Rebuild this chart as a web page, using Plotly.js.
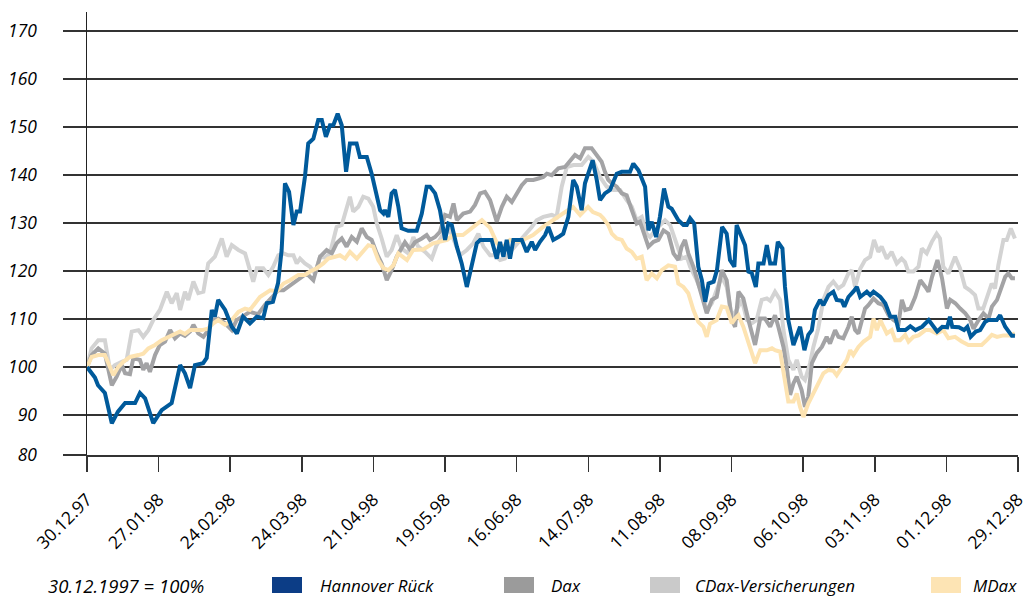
<!DOCTYPE html>
<html><head><meta charset="utf-8">
<script src="https://cdn.plot.ly/plotly-3.0.1.min.js"></script>
<style>html,body{margin:0;padding:0;background:#fff}#chart{width:1028px;height:597px}</style>
</head><body><div id="chart"></div>
<script>
// ---------- data ----------
const seriesNames = ['Hannover Rück', 'Dax', 'CDax-Versicherungen', 'MDax'];
const footnote = '30.12.1997 = 100%';

// x tick positions: days after 30.12.1997 and their labels
const xTickDays = [0, 28, 56, 84, 112, 140, 168, 196, 224, 252, 280, 308, 336, 364];
const xTickLabels = ['30.12.97','27.01.98','24.02.98','24.03.98','21.04.98','19.05.98','16.06.98',
                     '14.07.98','11.08.98','08.09.98','06.10.98','03.11.98','01.12.98','29.12.98'];
// y ticks (the lowest line of the original is labelled 80 although it sits at the axis bottom)
const yTickValues = [81.67, 90, 100, 110, 120, 130, 140, 150, 160, 170];
const yTickLabels = ['80', '90', '100', '110', '120', '130', '140', '150', '160', '170'];

// Hannover Rück: days after 30.12.1997 / index value
const hannoverDays = [
  0,1.8,3.1,4.3,7.0,9.7,12.1,14.9,18.8,20.7,
  22.7,25.9,29.2,33.1,36.4,38.3,40.3,42.2,45.4,46.8,
  48.8,50.0,51.3,54.0,56.6,58.6,61.0,63.7,66.4,68.9,
  70.3,72.7,74.7,76.1,77.4,79.0,80.7,82.0,83.3,85.2,
  86.5,88.5,90.4,91.8,93.4,95.0,96.3,98.0,99.6,101.3,
  102.8,105.4,106.7,109.4,111.3,114.6,115.9,116.5,117.8,119.1,
  120.4,121.7,123.0,125.6,128.9,130.9,132.8,134.1,136.1,138.0,
  140.0,141.3,142.6,144.6,146.5,148.5,150.4,152.4,153.7,158.2,
  160.2,161.5,162.8,164.1,165.4,166.7,170.0,171.9,173.9,175.2,
  177.1,179.1,180.4,182.3,184.3,186.2,188.2,190.1,191.5,193.4,
  194.7,196.0,197.7,199.3,200.6,202.5,204.5,207.1,209.1,212.3,
  213.6,215.6,218.2,219.5,220.8,222.5,224.0,225.6,227.3,228.6,
  231.2,233.2,234.5,235.8,237.4,239.0,240.4,241.7,243.0,245.0,
  246.3,248.3,250.1,251.4,253.1,254.0,256.0,257.3,258.6,259.9,
  261.5,262.5,264.5,265.8,267.1,269.0,270.1,271.9,272.9,274.2,
  276.2,278.8,280.5,282.0,283.4,284.6,286.6,287.9,289.9,291.8,
  293.1,295.1,296.1,297.7,299.6,301.0,302.3,304.9,306.2,307.5,
  310.2,312.1,314.1,316.0,317.3,320.0,321.9,323.9,326.5,329.1,
  332.4,334.4,336.3,337.4,338.3,340.9,342.9,344.2,345.5,347.5,
  349.2,351.1,352.4,355.7,357.0,359.0,361.6,362.8];
const hannoverValues = [
  100,98.7,97.8,96.2,94.6,88.3,90.7,92.5,92.5,94.6,
  93.5,88.3,91,92.5,100.4,98.7,95.6,100.4,100.8,101.9,
  111.9,110.5,114,111.9,108.4,107,110.5,109.1,110.5,110.2,
  113.3,113.6,117.5,124.4,138.3,136.5,129.6,132.4,132.4,139.6,
  146.6,147.6,151.5,151.5,148,150.4,150.4,152.8,150.4,140.7,
  146.6,146.6,143.8,143.8,140.3,132.7,132,132.7,131.3,136.2,
  136.9,133.5,128.9,128.4,128.4,132,137.6,137.6,136.2,132.7,
  126.5,129.9,129.6,125.1,121.6,116.7,121.6,125.8,126.5,126.5,
  122.6,126.1,123,126.5,122.6,126.5,126.5,124,126.1,124.4,
  126.1,127.5,129.2,126.5,127.1,127.8,131.3,139,137.6,132.7,
  138.3,140.3,143.1,139,134.8,136.2,136.9,140.3,140.7,140.7,
  142.4,141,137.6,128.5,130.3,127.1,131.3,137.2,133.4,133,
  130.6,129.6,129.6,131,129.9,120.9,118.1,113.6,117.4,117.8,
  120.2,129.2,127.8,122.3,120.9,129.6,127.1,125.4,119.9,119.6,
  116.7,121.6,121.6,125.4,121.6,121.6,126.1,124.7,116.7,109.8,
  104.6,108.4,103.5,106.7,107.7,111.9,114,112.9,115,115.7,
  114,113.8,112.6,114.6,115.7,116.7,114.6,115.7,115,115.7,
  114.6,113.3,110.5,110.5,107.7,107.7,108.5,107.7,108.4,109.8,
  107.4,108.4,108.3,110.5,108.4,108.3,107.7,108.4,106.3,107.4,
  107.7,109.4,109.8,109.8,110.8,108.4,106.5,106.5];

// Dax
const daxDays = [
  0,1.8,4.4,7.0,9.7,11.6,13.6,14.9,16.8,18.1,
  20.7,22.0,23.3,24.6,26.6,28.5,30.5,32.5,34.4,36.4,
  38.3,40.3,41.6,43.5,45.5,47.4,49.4,51.3,54.0,56.6,
  58.5,60.5,63.7,66.9,69.6,72.3,74.7,76.8,80.7,85.9,
  88.5,91.1,93.7,95.7,97.6,99.6,101.5,103.5,105.5,107.4,
  109.4,111.3,113.3,115.2,117.2,119.1,121.1,122.4,124.3,126.3,
  128.2,130.9,132.8,134.1,136.1,138.0,140.0,141.9,143.3,144.6,
  145.8,147.1,149.8,151.7,153.7,155.6,157.6,160.2,162.2,164.1,
  166.1,168.0,170.0,171.9,174.5,176.5,178.4,179.8,181.7,183.0,
  184.3,186.9,188.9,190.8,192.8,194.7,197.3,199.3,201.2,202.5,
  203.8,205.2,207.1,209.1,211.0,213.0,214.9,216.2,218.2,219.5,
  221.5,223.4,225.4,227.3,229.3,231.2,232.5,233.8,235.1,237.1,
  239.0,241.0,242.3,244.3,246.2,248.2,250.1,252.1,253.4,254.7,
  256.6,258.6,261.2,263.2,265.1,267.1,269.0,270.3,272.3,273.6,
  274.9,276.2,277.5,279.4,280.7,282.0,283.4,285.3,287.3,289.2,
  290.5,292.5,293.8,295.7,297.7,299.0,300.3,301.6,302.9,304.2,
  305.5,307.5,309.4,311.4,313.4,315.3,317.3,318.6,319.9,321.9,
  323.8,325.8,327.8,329.0,330.4,332.5,334.3,336.2,337.5,339.5,
  341.4,343.4,345.3,346.6,348.6,350.5,352.5,353.8,355.8,357.0,
  359.0,360.2,361.6,362.8];
const daxValues = [
  100,102.5,103.9,102.8,96.2,98,100.4,98.7,98.5,101.8,
  101.5,99.4,100.8,99,102.5,104.6,105.3,107.7,106,107,
  106.5,107.4,108.8,107,106.3,107.7,109.8,110.1,109.1,107.7,
  109.8,110.5,111.5,111,113,114.5,116,116,117.4,119.5,
  118.1,123,124.4,123.7,125.8,126.8,125.1,127.1,126.1,128.9,
  127.1,126.5,123.7,121.6,118.1,120.2,123,124.4,126,124.5,
  126,126.8,127.5,126.5,127.1,128.2,131.7,131.3,134.1,130.6,
  131.3,132,132.4,133.8,136.2,136.5,134.8,130.3,133.4,135.5,
  134.4,136.2,137.9,139,139,139.3,139.6,140.3,140,140.7,
  141.4,141.7,143.1,144.2,143.5,145.6,145.6,144.2,142.8,140.7,
  139,138.3,137.6,136.2,135.8,132.7,129.9,130.3,127.1,125.1,
  126.1,126.5,128.5,127.8,123.7,122.3,125.1,126.5,123.7,120.9,
  117.4,114,111.2,114,114.6,120.2,118.1,109.8,108.4,115.7,
  114.3,109.8,104.6,110.1,110.1,108.4,110.8,108.4,104.2,100,
  94.2,96.6,98,95.2,91.7,93.8,100.8,102.9,104.2,106.3,
  104.9,107.7,106.3,106,108.4,110.5,107.7,107,109.8,112.2,
  112.9,114.3,113.3,112.9,110.8,109.8,109.1,114,111.9,112.2,
  114.6,118.1,116.7,115.7,118.8,122.3,118.5,112.2,114,113.3,
  112.2,111.2,109.8,108,109.8,111.2,110.1,112.6,114,115.7,
  118.8,119.5,118.5,118.5];

// CDax-Versicherungen
const cdaxDays = [
  0,1.8,4.4,7.0,9.0,10.9,13.6,15.5,17.5,20.1,
  22.0,24.0,25.9,28.5,31.2,33.1,35.1,36.4,38.3,39.6,
  41.6,43.5,45.5,47.4,50.0,52.7,54.6,56.6,59.2,61.8,
  65.0,66.4,68.9,70.9,72.8,74.8,76.8,78.7,80.7,82.0,
  83.3,85.2,87.2,89.1,91.1,93.1,95.0,97.6,99.6,101.5,
  102.8,104.1,106.1,108.0,110.0,111.9,113.3,115.2,117.2,119.1,
  121.1,123.0,125.6,127.6,129.5,132.2,134.8,136.7,139.3,141.9,
  143.9,145.8,148.5,151.0,153.0,155.0,157.6,159.5,161.5,163.4,
  165.4,167.3,169.3,171.9,173.9,175.8,178.4,181.7,183.6,185.6,
  187.6,190.2,193.4,196.0,198.0,200.6,203.2,205.8,208.4,211.0,
  213.0,214.9,216.9,218.8,220.1,222.8,226.0,228.0,229.9,231.2,
  232.5,234.5,235.8,238.4,240.4,242.3,244.3,246.9,248.2,250.1,
  252.1,254.0,256.0,258.0,259.9,261.8,263.8,265.8,267.1,269.0,
  271.0,272.3,274.2,276.2,277.5,279.4,280.7,282.7,284.0,285.9,
  287.9,289.9,291.8,293.8,295.7,297.7,299.0,300.3,302.3,304.2,
  306.2,307.7,309.4,310.7,312.7,314.6,316.6,318.5,319.8,321.1,
  323.1,325.1,326.4,328.3,330.3,332.2,333.5,334.8,336.8,339.4,
  341.3,343.3,345.2,347.2,348.5,350.4,352.4,353.7,355.0,356.3,
  358.3,359.6,361.2,362.8];
const cdaxValues = [
  100,103.9,105.6,105.6,99.4,100.4,101.1,101.5,107.4,107.7,
  106.3,107.7,109.8,111.9,115.7,113.3,115.4,111.9,115.7,114,
  117.8,115.4,115.7,121.6,123,126.8,123,125.4,124.4,123.7,
  117.8,120.6,120.6,119.2,120.9,123.3,123.7,123.3,123.3,121.6,
  122.6,121.6,120.9,119.5,123,122.8,123.7,129.2,129.6,133.4,
  135.5,132.4,133.4,135.5,135.1,133.4,129.9,126.8,123,124.4,
  127.5,124.7,123.7,127.1,125.1,124,122.6,125.4,127.8,128.5,
  125.8,123.3,124.4,125.8,127.8,125.1,123.3,123.3,122.3,122.6,
  124,125.1,126.5,127.8,129.2,130.6,131.3,131.7,131.3,137.6,
  141.7,142.1,142.1,143.8,142.8,139.6,137.6,136.9,136.9,134.8,
  133.4,130.6,131.3,127.8,127.1,128.9,130.6,129.6,126.5,124.4,
  122.6,123,120.9,118.1,115.4,111.9,113.3,117.1,118.8,116.7,
  110.5,111.9,114,109.8,109.1,109.8,114,114.3,113.8,115.7,
  114,107.7,101.5,99.4,101.5,98,97.3,100.8,104.2,108,
  114,116.7,117.8,116.4,117.1,119.5,120.2,116.7,120.5,122.3,
  123,126.5,124,125.1,122.6,124,121.6,122.6,121.9,119.9,
  119.9,120.9,124.7,123.7,126.1,127.8,126.8,120.9,119.5,123,
  120.6,116.7,116,115,112.2,112.2,115.7,117.4,116.4,121.2,
  126.5,126.5,128.9,126.8];

// MDax
const mdaxDays = [
  0,1.8,4.4,7.0,10.3,12.2,14.2,16.8,20.1,22.0,
  24.0,26.6,29.2,31.8,34.4,36.4,38.3,40.3,44.8,47.4,
  49.4,51.3,54.0,56.6,59.2,61.8,63.7,67.6,71.6,74.2,
  76.8,79.4,82.6,85.2,87.2,89.8,92.4,94.3,97.0,98.9,
  100.9,102.8,105.5,108.0,110.0,111.9,113.9,115.9,117.8,119.8,
  121.7,125.1,127.5,131.4,135.3,140.8,143.1,147.0,150.9,154.4,
  157.6,160.3,162.7,165.4,169.3,174.4,178.3,183.8,186.1,190.0,
  192.8,195.9,197.8,200.6,201.9,203.8,205.2,207.1,209.1,211.0,
  213.0,214.9,216.9,218.8,220.8,222.8,224.7,227.3,229.9,231.2,
  233.2,235.1,237.1,239.0,241.0,242.3,243.6,246.2,248.2,250.1,
  252.1,253.4,254.7,256.6,258.6,261.2,263.2,265.8,267.8,269.0,
  271.0,272.9,274.2,276.2,277.5,278.8,280.1,282.0,284.0,285.9,
  287.9,289.9,291.8,293.1,295.1,297.1,298.4,299.6,301.6,303.6,
  306.2,307.5,308.8,310.2,311.4,312.7,314.6,316.0,317.9,319.9,
  321.2,323.1,325.1,327.8,329.7,332.2,334.8,336.8,339.4,342.0,
  344.6,349.8,351.8,353.8,355.8,358.3,360.9,362.8];
const mdaxValues = [
  100,102.1,102.5,102.5,98.3,100,101.1,102.1,102.5,102.8,
  103.9,104.6,105.6,106.3,107,107.4,106.9,107.7,107.7,108,
  109.1,109.8,108.8,109.8,111.5,112.2,111.9,114.6,116,115.8,
  117.4,118.1,119.2,119.2,119.9,120.6,121.6,122.6,123,123.3,
  122.6,124,122.6,124,125.4,125.1,122.3,120.6,120.2,121.2,
  123.7,122.3,124.4,124.5,125.8,126.5,127.5,127.5,129.2,130.6,
  129,125.8,125,126.5,126.2,127.5,129.2,131.3,132,133.4,
  131.7,133.4,132.3,131.7,131,129.6,127.8,126.8,126.5,124.7,
  124,122.6,123,118.1,119.5,118.5,120.2,121.2,120.9,117.4,
  116.7,115.4,111.9,109.4,108.4,106.3,109,109.8,112.6,112.4,
  109.1,110.1,110.8,108.4,104.9,100.8,103.5,103.5,103.9,103.5,
  103.2,97.3,92.8,92.8,94.5,91.7,89.6,92.4,94.5,96.6,
  98.7,99.4,99.2,98.3,100,101.5,103.5,102.5,104.2,105.3,
  106.3,110.1,107.7,109.8,108.4,107,107.7,105.6,105.6,106.7,
  105.3,106.3,106.6,107.7,107.7,107,107.7,106,106.3,105.3,
  104.6,104.6,105.6,106.7,106.3,106.6,106.6,107];

// ---------- styling ----------
const lineColors   = ['#005a9b', '#a3a3a5', '#d3d3d3', '#fde3b1'];
const swatchColors = ['#0c3d86', '#9b9b9b', '#cacaca', '#fde4b4'];
const FONT = '"Open Sans", "DejaVu Sans", sans-serif';
const TEXT = '#000';

const DAY = 86400000, BASE = Date.UTC(1997, 11, 30);
const toDate = d => BASE + d * DAY;

function lineTrace(days, values, idx) {
  return {
    type: 'scatter', mode: 'lines', name: seriesNames[idx],
    x: days.map(toDate), y: values,
    line: {color: lineColors[idx], width: 4},
    hoverinfo: 'skip'
  };
}
// drawing order: CDax, Dax, MDax, Hannover Rück on top
const traces = [
  lineTrace(cdaxDays, cdaxValues, 2),
  lineTrace(daxDays, daxValues, 1),
  lineTrace(mdaxDays, mdaxValues, 3),
  lineTrace(hannoverDays, hannoverValues, 0)
];

// plot area in pixels: left 87, right 1018, top 12, bottom 455
const PL = 87, PW = 931, PB = 455, PH = 443;
const px = x => (x - PL) / PW;
const py = y => (PB - y) / PH;

const legendSwatchX = [272, 504, 650, 931];
const legendTextX   = [318, 549, 693, 971];
const shapes = legendSwatchX.map((x, i) => ({
  type: 'rect', xref: 'paper', yref: 'paper',
  x0: px(x), x1: px(x + 30), y0: py(593), y1: py(577),
  fillcolor: swatchColors[i], line: {width: 0}
}));
const annotations = legendTextX.map((x, i) => ({
  xref: 'paper', yref: 'paper', x: px(x), y: py(585),
  xanchor: 'left', yanchor: 'middle', showarrow: false,
  text: seriesNames[i],
  font: {family: FONT, size: 17, style: 'italic', color: TEXT}
}));
annotations.push({
  xref: 'paper', yref: 'paper', x: px(46), y: py(585),
  xanchor: 'left', yanchor: 'middle', showarrow: false,
  text: footnote,
  font: {family: FONT, size: 18.5, style: 'italic', color: TEXT}
});

const layout = {
  width: 1028, height: 597,
  margin: {l: 87, r: 10, t: 12, b: 142, pad: 0},
  paper_bgcolor: '#fff', plot_bgcolor: '#fff',
  showlegend: false,
  font: {family: FONT, color: TEXT},
  xaxis: {
    type: 'date', range: [toDate(0), toDate(364)],
    tickmode: 'array', tickvals: xTickDays.map(toDate), ticktext: xTickLabels,
    tickangle: -45, ticks: 'outside', ticklen: 15, tickwidth: 1.5, tickcolor: '#333',
    showline: true, linecolor: '#333', linewidth: 1.5,
    showgrid: false, zeroline: false,
    ticklabelstandoff: 11,
    tickfont: {family: FONT, size: 17.5, color: TEXT}
  },
  yaxis: {
    range: [81.67, 174],
    tickmode: 'array', tickvals: yTickValues, ticktext: yTickLabels,
    ticks: 'outside', ticklen: 23, tickwidth: 1.5, tickcolor: '#333',
    showgrid: true, gridcolor: '#333', gridwidth: 1.5,
    showline: true, linecolor: '#222', linewidth: 1.5, zeroline: false,
    ticklabelstandoff: 22,
    tickfont: {family: FONT, size: 17.5, style: 'italic', color: TEXT}
  },
  shapes: shapes,
  annotations: annotations
};

Plotly.newPlot('chart', traces, layout, {staticPlot: true, displayModeBar: false});
</script>
</body></html>
